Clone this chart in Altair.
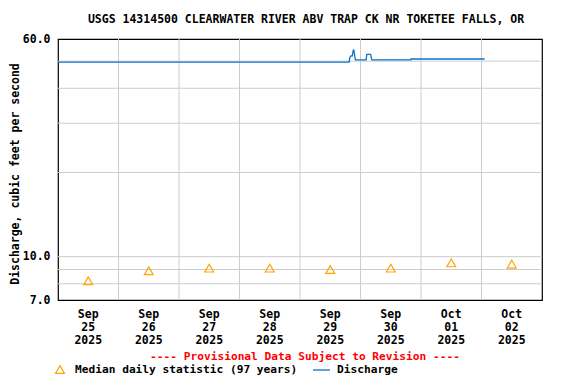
import altair as alt
import pandas as pd

FONT = "DejaVu Sans Mono"
BLUE = "#0a73cc"
ORANGE = "#FFA500"
GRID = "#cccccc"

# ---- data ----
days = ["2025-09-25", "2025-09-26", "2025-09-27", "2025-09-28",
        "2025-09-29", "2025-09-30", "2025-10-01", "2025-10-02"]
months = ["Sep", "Sep", "Sep", "Sep", "Sep", "Sep", "Oct", "Oct"]
daynums = ["25", "26", "27", "28", "29", "30", "01", "02"]
years = ["2025"] * 8
median_values = [8.2, 8.9, 9.1, 9.1, 9.0, 9.1, 9.5, 9.4]

q_times = ["2025-09-25T00:00", "2025-09-29T19:30", "2025-09-29T19:45",
           "2025-09-29T20:15", "2025-09-29T20:45", "2025-09-29T21:00",
           "2025-09-29T21:15", "2025-09-29T21:30", "2025-09-29T21:45",
           "2025-09-29T22:00", "2025-09-30T02:15", "2025-09-30T02:30",
           "2025-09-30T04:00", "2025-09-30T04:30", "2025-09-30T20:00",
           "2025-09-30T20:00", "2025-10-02T01:15"]
q_values = [49.6, 49.6, 51.5, 52.2, 52.2, 54.0, 55.1, 54.0, 52.0,
            50.5, 50.5, 52.9, 52.9, 50.5, 50.5, 50.9, 50.9]

grid_days = ["2025-09-26", "2025-09-27", "2025-09-28", "2025-09-29",
             "2025-09-30", "2025-10-01", "2025-10-02"]
y_grid = [8, 9, 10, 20, 30, 40, 50]
y_ticks = [7, 10, 60]

title_text = "USGS 14314500 CLEARWATER RIVER ABV TRAP CK NR TOKETEE FALLS, OR"
y_title = "Discharge, cubic feet per second"
prov_text = "---- Provisional Data Subject to Revision ----"
legend_median = "Median daily statistic (97 years)"
legend_q = "Discharge"

# ---- tables ----
med_df = pd.DataFrame({"date": [d + "T12:00" for d in days], "value": median_values})
lab_df = pd.DataFrame({"date": [d + "T12:00" for d in days],
                       "label": [f"{m}\n{d}\n{y}" for m, d, y in zip(months, daynums, years)]})
q_df = pd.DataFrame({"date": q_times, "value": q_values})
vg_df = pd.DataFrame({"date": [d + "T00:00" for d in grid_days]})
hg_df = pd.DataFrame({"value": y_grid})

x_scale = alt.Scale(domain=[alt.DateTime(year=2025, month=9, date=25, hours=0),
                            alt.DateTime(year=2025, month=10, date=3, hours=0)])
y_scale = alt.Scale(type="log", domain=[7, 60], nice=False)
y_axis = alt.Axis(values=y_ticks, format=".1f", grid=False, ticks=False, domain=False,
                  labelFont=FONT, labelFontSize=11.5, labelFontWeight="bold",
                  labelColor="black", labelPadding=8, title=None)

hgrid = alt.Chart(hg_df).mark_rule(color=GRID, strokeWidth=1).encode(
    y=alt.Y("value:Q", scale=y_scale, axis=y_axis))
vgrid = alt.Chart(vg_df).mark_rule(color=GRID, strokeWidth=1).encode(
    x=alt.X("date:T", scale=x_scale, axis=None))
line = alt.Chart(q_df).mark_line(color=BLUE, strokeWidth=1.3).encode(
    x=alt.X("date:T", scale=x_scale, axis=None),
    y=alt.Y("value:Q", scale=y_scale, axis=y_axis))
pts = alt.Chart(med_df).mark_point(shape="triangle-up", filled=False, color=ORANGE,
                                   size=80, strokeWidth=1.2, opacity=1).encode(
    x=alt.X("date:T", scale=x_scale, axis=None),
    y=alt.Y("value:Q", scale=y_scale, axis=y_axis))
xlabels = alt.Chart(lab_df).mark_text(lineBreak="\n", baseline="top", align="center",
                                      font=FONT, fontSize=11.5, fontWeight="bold",
                                      lineHeight=13, color="black").encode(
    x=alt.X("date:T", scale=x_scale, axis=None),
    y=alt.value(270), text="label:N")


def label(txt, x, y, color="black", align="center", angle=0, size=11.5):
    m = dict(font=FONT, fontSize=size, fontWeight="bold", color=color,
             align=align, baseline="middle")
    if angle:
        m["angle"] = angle
    return alt.Chart(pd.DataFrame({"t": [txt]})).mark_text(**m).encode(
        x=alt.value(x), y=alt.value(y), text="t:N")


title = label(title_text, 248, -19)
ytitle = label(y_title, -42, 135, angle=270)
prov = label(prov_text, 247, 317.5, color="red", size=11.2)
leg1 = label(legend_median, 17, 331, align="left", size=11.2)
leg2 = label(legend_q, 279, 331, align="left", size=11.2)
leg_tri = alt.Chart(pd.DataFrame({"t": [0]})).mark_point(
    shape="triangle-up", filled=False, color=ORANGE, size=80, strokeWidth=1.2, opacity=1
).encode(x=alt.value(2), y=alt.value(330.5))
leg_line = alt.Chart(pd.DataFrame({"t": [0]})).mark_rule(color=BLUE, strokeWidth=1.3).encode(
    x=alt.value(255), x2=alt.value(272), y=alt.value(331))

chart = alt.layer(hgrid, vgrid, line, pts, xlabels, title, ytitle, prov,
                  leg1, leg2, leg_tri, leg_line).properties(
    width=484, height=261,
    autosize=alt.AutoSizeParams(type="none"),
    padding={"left": 50, "top": 31, "right": 26, "bottom": 76},
).configure_view(stroke="black", strokeWidth=1.2)

chart.save("out.html", embed_options={"renderer": "svg", "actions": False})
